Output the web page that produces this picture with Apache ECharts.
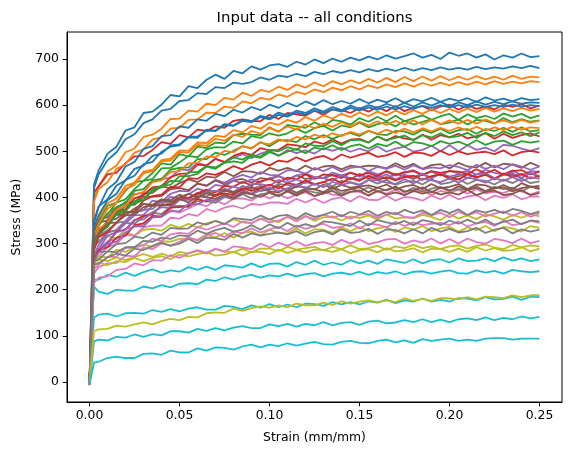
<!DOCTYPE html>
<html><head><meta charset="utf-8">
<script src="https://cdn.jsdelivr.net/npm/echarts@6/dist/echarts.min.js"></script>
<style>html,body{margin:0;padding:0;background:#fff}#c{width:571px;height:455px}</style>
</head><body><div id="c"></div>
<script>
const strain = [0,0.0025,0.005,0.01,0.015,0.02,0.025,0.03,0.035,0.04,0.045,0.05,0.055,0.06,0.065,0.07,0.075,0.08,0.085,0.09,0.095,0.1,0.105,0.11,0.115,0.12,0.125,0.13,0.135,0.14,0.145,0.15,0.155,0.16,0.165,0.17,0.175,0.18,0.185,0.19,0.195,0.2,0.205,0.21,0.215,0.22,0.225,0.23,0.235,0.24,0.245,0.25];
const xTicks = [0,0.05,0.1,0.15,0.2,0.25];
const yTicks = [0,100,200,300,400,500,600,700];

const blue1 = [-5,428,458,495,510,545,552,583,586,601,622,619,641,637,655,666,657,674,669,684,677,686,689,683,694,688,699,691,701,694,703,697,705,699,708,701,706,712,703,709,700,714,707,712,703,710,699,708,703,712,704,706];
const blue2 = [-4,420,449,481,498,526,537,561,569,588,592,609,611,626,624,639,637,649,646,650,660,655,664,661,668,663,672,667,674,670,676,671,678,673,679,674,681,675,680,676,682,677,681,677,683,678,682,679,684,680,685,680];
const blue3 = [-6,345,378,418,434,467,477,505,511,533,535,554,551,569,566,581,576,590,584,596,589,601,594,605,597,608,600,611,602,609,603,613,604,612,606,615,605,613,608,616,607,614,609,615,607,617,610,614,608,615,611,613];
const blue4 = [-5,335,361,394,408,438,447,472,477,499,510,513,530,529,547,545,559,556,568,565,577,572,584,578,588,583,593,586,596,589,599,592,600,594,603,596,605,597,606,599,607,598,606,600,608,601,607,602,608,603,606,605];
const blue5 = [-6,350,380,396,426,437,462,469,490,495,513,515,531,532,545,544,557,555,566,563,574,569,579,575,584,580,588,583,591,586,594,588,595,590,597,591,598,592,599,594,600,595,600,595,601,596,600,596,601,597,600,598];

const orange1 = [-4,398,423,456,469,498,506,531,536,549,570,571,588,586,603,600,616,612,627,620,633,629,640,633,645,638,649,641,652,645,654,647,657,649,659,650,661,652,662,653,663,654,662,655,663,656,662,655,664,657,662,660];
const orange2 = [-5,390,418,433,462,472,497,504,526,530,549,551,568,569,584,583,597,594,608,604,616,612,623,618,629,624,634,628,638,632,641,634,643,637,645,639,647,640,648,642,649,643,650,644,651,645,652,646,651,647,652,650];
const orange3 = [-6,335,356,387,398,425,432,456,460,481,484,502,501,519,518,534,531,546,541,555,549,562,557,568,562,574,566,578,571,581,574,584,576,586,578,588,580,589,581,591,583,592,584,593,585,594,586,593,587,594,588,592];
const orange4 = [-4,315,342,375,389,418,427,452,457,478,480,498,497,514,512,527,523,536,531,544,538,550,543,554,547,558,550,560,553,563,554,564,556,565,557,566,558,567,558,568,559,567,560,568,560,569,561,567,561,568,562,566];
const orange5 = [-5,305,331,346,373,382,406,412,433,437,455,457,474,475,489,487,501,498,511,507,519,515,526,521,531,526,536,530,539,533,542,536,545,538,547,540,549,541,550,543,551,544,552,545,553,545,552,546,553,547,552,550];

const green1 = [-7,330,350,382,389,414,433,436,453,474,471,494,489,510,507,519,517,535,538,536,535,552,542,557,554,551,563,554,568,565,558,572,564,575,565,577,565,572,578,568,576,581,568,580,572,577,570,582,575,581,572,578];
const green2 = [-5,320,347,363,389,396,418,436,440,463,464,476,490,487,504,509,508,521,517,533,529,539,534,539,549,540,550,555,545,556,552,562,552,559,563,554,566,558,564,569,559,562,569,558,568,566,560,572,563,570,564,567];
const green3 = [-6,318,338,365,379,388,414,418,437,440,460,464,465,483,483,497,492,501,511,506,520,511,523,524,520,533,526,535,527,535,540,533,544,537,535,544,543,536,547,540,549,539,546,548,538,548,544,551,542,552,543,546];
const green4 = [-4,310,333,341,363,382,386,395,418,422,436,435,455,455,468,465,476,487,482,493,488,503,500,509,503,517,512,511,522,513,524,525,519,532,524,529,534,524,535,530,539,530,533,540,529,540,533,543,535,541,533,541];
const green5 = [-5,300,322,336,364,370,392,394,414,426,427,446,446,451,467,462,475,478,475,490,486,498,491,499,505,496,508,504,513,503,511,515,506,516,511,521,510,520,517,511,522,516,521,513,524,514,521,523,514,522,519,522];

const red1 = [-5,410,424,450,454,474,489,490,503,520,516,535,530,547,544,554,551,566,569,566,565,579,570,583,580,577,588,579,591,589,583,594,586,596,587,598,587,594,598,589,597,601,590,600,592,597,591,601,596,602,593,599];
const red2 = [-6,300,322,340,367,374,398,405,422,424,444,451,452,471,469,483,477,490,497,492,507,502,503,515,513,509,521,516,526,517,525,527,519,532,523,533,528,525,536,525,535,530,538,528,533,539,527,538,529,535,539,532];
const red3 = [-4,285,314,325,345,367,370,393,403,406,423,422,442,440,452,449,457,468,461,471,477,469,480,477,487,478,486,490,481,493,486,492,497,488,491,498,488,497,496,490,501,492,500,494,497,499,494,502,491,498,501,497];
const red4 = [-5,265,284,300,326,330,350,360,363,384,384,400,397,409,417,411,425,423,434,426,435,440,432,443,439,450,440,450,448,442,454,448,453,446,457,449,455,457,449,457,453,457,456,451,461,452,460,449,457,459,450,456];
const red5 = [-6,262,286,292,313,317,340,344,360,359,378,379,382,397,391,405,409,405,420,414,421,428,419,431,427,437,429,433,441,431,442,436,446,438,444,437,444,447,438,446,450,442,439,450,444,449,439,452,444,451,441,447];

const purple1 = [-4,290,314,352,368,381,407,410,435,440,442,461,459,475,469,485,476,486,494,485,495,501,490,503,496,502,495,507,501,508,499,506,500,511,499,506,510,499,503,512,500,513,500,513,503,508,500,514,512,506,501,507];
const purple2 = [-5,275,296,323,330,349,369,372,393,390,408,414,413,430,426,438,432,442,449,443,455,449,448,459,458,451,464,457,466,456,464,467,457,466,462,469,460,470,461,465,463,470,466,459,471,462,469,461,472,467,460,467];
const purple3 = [-6,270,287,317,325,344,361,362,382,385,401,398,407,419,413,427,424,436,431,439,433,442,446,438,447,452,444,442,454,448,454,445,457,450,456,447,453,459,449,456,447,458,452,458,449,460,453,450,459,448,457,456];
const purple4 = [-5,268,288,303,324,331,352,352,368,379,377,395,395,398,413,414,413,424,417,429,429,425,438,432,439,431,444,442,436,448,442,439,448,442,450,439,449,444,452,441,452,445,450,442,450,452,442,449,453,442,453,446];
const purple5 = [-4,262,280,299,304,323,338,337,357,358,370,370,386,385,395,393,402,401,413,407,415,421,413,419,428,420,430,422,434,427,432,426,438,437,432,429,440,430,441,437,433,441,432,443,439,432,442,436,444,435,444,440];

const brown1 = [-5,330,353,357,376,390,389,408,410,424,420,431,439,433,445,443,455,446,457,456,451,464,458,464,457,469,460,467,469,461,469,466,469,468,463,474,465,473,462,470,472,463,475,467,465,475,465,473,471,464,475,467];
const brown2 = [-6,325,346,350,369,384,384,402,401,403,418,420,416,430,425,437,428,437,440,432,442,439,446,438,448,440,443,442,449,446,439,451,441,448,440,451,446,440,450,443,452,440,446,452,442,452,441,450,449,442,453,444];
const brown3 = [-5,320,330,345,363,361,376,386,381,395,394,406,398,407,413,405,418,411,418,423,414,417,425,414,424,422,417,428,419,427,421,424,426,421,428,417,424,427,418,429,420,423,429,418,428,426,419,427,418,431,423,425];
const brown4 = [-4,315,325,349,354,369,367,386,384,396,390,400,408,400,409,402,415,409,416,408,420,413,411,420,410,419,418,411,423,414,418,422,411,421,415,423,413,416,422,411,421,414,424,416,421,413,420,422,413,420,424,418];
const brown5 = [-6,310,320,344,346,361,362,379,383,383,383,397,389,403,400,397,406,398,410,407,401,411,404,413,404,414,403,409,414,404,412,415,404,414,406,411,405,414,408,413,406,411,406,416,405,412,415,405,408,416,405,410];

const pink1 = [-5,270,283,305,310,332,337,340,357,358,373,367,376,386,381,394,385,397,398,393,406,398,407,398,406,411,403,413,406,404,413,412,404,415,408,417,406,413,415,405,414,410,417,408,418,409,412,410,417,413,406,413];
const pink2 = [-6,262,271,293,299,319,317,335,339,339,356,354,364,360,375,369,378,382,376,386,384,389,389,386,397,389,398,388,397,400,391,403,395,394,404,393,401,399,393,404,396,406,396,402,405,394,404,399,407,396,402,402];
const pink3 = [-4,245,254,271,271,291,292,296,311,306,320,323,321,336,330,337,344,336,348,344,354,346,350,358,348,359,353,363,356,362,354,362,364,356,363,367,358,356,367,361,367,357,369,361,368,359,365,370,360,368,358,366];
const pink4 = [-5,235,249,257,258,274,272,291,288,300,296,304,314,307,317,323,314,326,323,333,324,331,336,327,339,332,338,343,334,336,344,333,343,341,335,347,338,346,340,343,345,340,348,337,344,347,338,350,340,343,349,345];
const pink5 = [-6,215,226,229,243,245,257,253,264,263,275,269,279,286,280,289,282,294,292,288,300,292,302,295,305,295,301,303,297,308,300,309,299,303,309,310,300,307,302,311,300,310,300,311,303,300,310,307,301,311,301,306];

const gray1 = [-5,300,318,329,345,348,367,373,375,391,386,399,399,410,402,413,418,412,425,418,425,418,429,427,422,434,427,434,424,436,433,428,438,430,438,427,434,436,428,440,429,432,440,429,438,436,428,439,431,441,431,435];
const gray2 = [-4,295,303,326,328,345,343,358,367,364,380,382,379,392,392,388,401,396,407,398,407,410,402,415,406,416,411,408,420,408,419,413,422,412,417,423,411,421,412,419,423,416,418,416,424,414,423,418,421,413,423,421];
const gray3 = [-6,270,282,283,299,301,315,312,324,319,334,332,333,346,341,349,342,355,353,351,361,352,360,362,354,366,358,362,369,359,369,363,371,360,369,363,373,366,372,362,373,366,374,362,372,367,373,366,375,371,364,370];
const gray4 = [-5,262,265,283,281,292,292,306,304,313,310,318,316,328,321,329,334,326,330,340,330,342,333,345,336,342,336,348,346,342,338,350,339,351,346,342,349,340,351,347,340,350,343,352,343,352,341,347,352,342,350,348];
const gray5 = [-4,255,257,270,278,274,289,286,295,302,295,300,310,301,313,312,308,321,313,322,317,321,324,320,327,317,325,328,320,331,323,325,332,321,331,329,322,331,322,334,326,332,324,327,334,323,330,334,322,331,326,330];

const olive1 = [-4,300,305,316,311,325,317,330,332,328,341,334,343,335,344,349,342,353,346,344,354,353,346,358,350,360,349,357,359,350,359,355,361,352,363,354,357,355,362,358,351,364,354,361,353,364,359,352,362,356,364,359];
const olive2 = [-5,262,272,270,287,282,292,298,293,305,304,310,311,308,320,313,323,313,323,326,318,330,323,322,333,322,331,330,323,335,327,336,327,333,336,325,335,330,338,327,333,336,326,335,329,338,327,336,333,326,338,334];
const olive3 = [-4,258,266,262,270,264,271,277,271,278,272,282,278,284,278,288,283,281,289,281,289,289,284,293,287,290,293,285,293,288,296,288,290,295,286,294,290,297,290,294,288,294,296,289,295,298,291,288,297,292,296,294];
const olive4 = [-6,252,259,253,262,260,269,262,269,273,266,276,272,277,281,274,276,282,274,282,282,277,287,280,286,281,287,286,282,288,279,286,288,281,290,283,285,290,281,289,288,282,289,282,292,285,290,284,286,292,283,289];
const olive5 = [-5,110,114,115,122,120,125,129,125,132,137,134,141,140,149,151,150,159,154,160,164,161,166,162,170,166,166,172,167,175,170,174,177,173,177,173,181,176,180,176,182,181,179,184,179,185,184,182,188,184,188,188];

const cyan1 = [-5,222,222,232,228,237,230,238,244,237,242,239,249,243,250,243,253,251,248,257,249,256,257,250,260,254,263,254,259,254,264,257,263,256,266,262,258,266,257,264,266,259,268,262,263,268,262,270,263,268,262,266];
const cyan2 = [-4,207,196,191,200,198,198,207,203,210,205,213,214,212,222,219,227,222,229,232,226,231,229,235,229,234,236,229,235,237,233,239,232,238,235,240,233,239,240,235,239,242,236,235,242,237,241,235,243,240,238,240];
const cyan3 = [-5,140,146,148,142,149,150,148,156,152,158,153,159,162,157,157,165,163,158,166,161,169,162,168,162,170,169,165,173,168,173,168,175,172,178,171,177,174,181,174,178,174,182,181,177,184,179,180,185,178,185,184];
const cyan4 = [-6,88,92,90,98,96,103,98,104,101,110,110,107,115,111,117,112,118,121,117,117,125,121,126,120,126,123,130,123,128,130,124,131,133,127,129,134,130,136,130,135,130,136,138,134,140,134,139,136,142,138,141];
const cyan5 = [-5,42,44,52,55,52,52,61,62,59,68,64,64,73,68,75,74,70,77,81,75,81,78,84,79,83,87,82,81,87,89,85,84,89,92,86,90,85,93,89,92,94,89,92,89,94,95,95,92,94,94,94];

const palette = ['#1f77b4','#ff7f0e','#2ca02c','#d62728','#9467bd','#8c564b','#e377c2','#7f7f7f','#bcbd22','#17becf'];
const byColor = [
  [blue1,blue2,blue3,blue4,blue5],
  [orange1,orange2,orange3,orange4,orange5],
  [green1,green2,green3,green4,green5],
  [red1,red2,red3,red4,red5],
  [purple1,purple2,purple3,purple4,purple5],
  [brown1,brown2,brown3,brown4,brown5],
  [pink1,pink2,pink3,pink4,pink5],
  [gray1,gray2,gray3,gray4,gray5],
  [olive1,olive2,olive3,olive4,olive5],
  [cyan1,cyan2,cyan3,cyan4,cyan5]
];

const series = [];
for (let k = 0; k < 5; k++) {
  for (let c = 0; c < 10; c++) {
    const arr = byColor[c][k];
    const data = [];
    for (let i = 0; i < strain.length; i++) {
      if (arr[i] !== undefined) data.push([strain[i], arr[i]]);
    }
    series.push({
      type: 'line', data: data, showSymbol: false, symbol: 'none',
      lineStyle: {color: palette[c], width: 1.8}, itemStyle: {color: palette[c]},
      silent: true, animation: false, emphasis: {disabled: true}
    });
  }
}

const FONT = 'DejaVu Sans';
const chart = echarts.init(document.getElementById('c'), null, {renderer: 'canvas'});
chart.setOption({
  animation: false,
  backgroundColor: '#fff',
  grid: {left: 67, right: 9, top: 32, bottom: 53, show: true, borderColor: '#000', borderWidth: 1, backgroundColor: 'transparent'},
  xAxis: {
    type: 'value', min: -0.0125, max: 0.2625,
    axisLine: {show: true, onZero: false, lineStyle: {color: '#000', width: 1}},
    axisTick: {show: true, length: 4.3, lineStyle: {color: '#000', width: 1}, customValues: xTicks},
    axisLabel: {show: true, margin: 8, color: '#000', fontFamily: FONT, fontSize: 12.4, customValues: xTicks,
      formatter: v => Number(v).toFixed(2)},
    splitLine: {show: false}
  },
  yAxis: {
    type: 'value', min: -43.3, max: 758.5,
    axisLine: {show: true, onZero: false, lineStyle: {color: '#000', width: 1}},
    axisTick: {show: true, length: 4.3, lineStyle: {color: '#000', width: 1}, customValues: yTicks},
    axisLabel: {show: true, margin: 8, color: '#000', fontFamily: FONT, fontSize: 12.4, customValues: yTicks},
    splitLine: {show: false}
  },
  graphic: [
    {type: 'text', left: 'center', top: 0, silent: true, style: {}, invisible: true},
    {type: 'text', x: 314.5, y: 18, silent: true, style: {text: 'Input data -- all conditions', fill: '#000', font: '14.9px "DejaVu Sans"', textAlign: 'center', textVerticalAlign: 'middle'}},
    {type: 'text', x: 314.5, y: 438, silent: true, style: {text: 'Strain (mm/mm)', fill: '#000', font: '12.4px "DejaVu Sans"', textAlign: 'center', textVerticalAlign: 'middle'}},
    {type: 'text', x: 17, y: 217, rotation: Math.PI / 2, silent: true, style: {text: 'Stress (MPa)', fill: '#000', font: '12.4px "DejaVu Sans"', textAlign: 'center', textVerticalAlign: 'middle'}}
  ],
  series: series
});
</script></body></html>
